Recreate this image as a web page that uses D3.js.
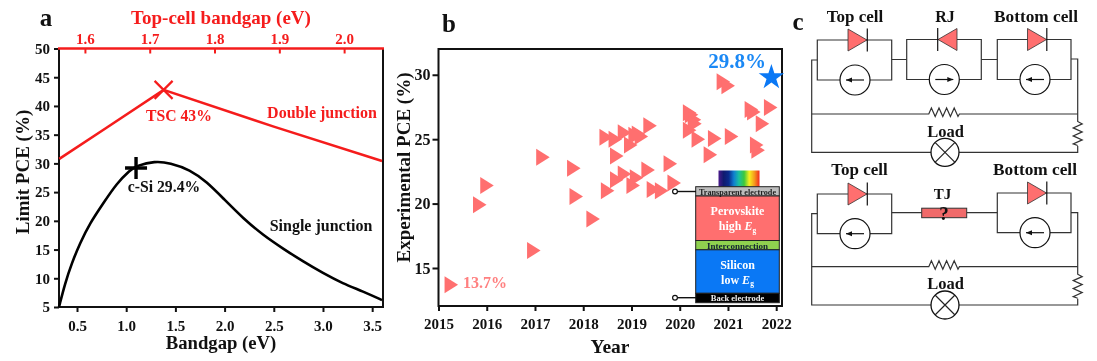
<!DOCTYPE html>
<html>
<head>
<meta charset="utf-8">
<script src="https://cdn.jsdelivr.net/npm/d3@7"></script>
<style>
  html, body { margin: 0; padding: 0; background: #fff; }
  svg { display: block; filter: blur(0.45px); }
  text { font-family: "Liberation Serif", serif; font-weight: bold; }
  .domain { display: none; }
</style>
</head>
<body>
<div id="viz"></div>
<script>
// panel a data
const bandgapTicks = [0.5, 1.0, 1.5, 2.0, 2.5, 3.0, 3.5];
const topBandgapTicks = [1.6, 1.7, 1.8, 1.9, 2.0];
const limitTicks = [5, 10, 15, 20, 25, 30, 35, 40, 45, 50];
const singleBandgap = [0.317, 0.378, 0.446, 0.53, 0.632, 0.767, 0.903, 1.04, 1.107, 1.29, 1.445, 1.648, 1.818, 1.987, 2.19, 2.393, 2.6, 2.8, 3.0, 3.2, 3.41, 3.6];
const singlePce = [5, 9.1, 12.6, 16.1, 19.6, 23.05, 26.5, 28.85, 29.6, 30.4, 30.1, 28.9, 26.8, 23.9, 20.4, 17.5, 15.1, 12.9, 10.9, 9.1, 7.7, 6.2];
const doubleBandgap = [0.32, 0.8, 1.38, 2.5, 3.6];
const doublePce = [30.8, 36.2, 42.8, 36.4, 30.4];

// panel b data
const yearTicks = [2015, 2016, 2017, 2018, 2019, 2020, 2021, 2022];
const pceTicks = [15, 20, 25, 30];
const recordYears = [2015.26, 2015.85, 2016.0, 2016.97, 2017.16, 2017.8, 2017.85, 2018.2, 2018.47, 2018.5, 2018.66, 2018.69, 2018.69, 2018.85, 2018.85, 2018.98, 2019.03, 2019.1, 2019.07, 2019.14, 2019.2, 2019.34, 2019.38, 2019.45, 2019.62, 2019.8, 2019.88, 2020.2, 2020.24, 2020.2, 2020.3, 2020.31, 2020.38, 2020.63, 2020.72, 2020.9, 2021.0, 2021.07, 2021.48, 2021.53, 2021.59, 2021.62, 2021.71, 2021.88];
const recordPce = [13.7, 19.9, 21.4, 16.35, 23.6, 22.75, 20.55, 18.8, 25.15, 21.0, 25.0, 23.7, 21.85, 25.5, 22.3, 24.55, 21.4, 22.0, 25.3, 25.4, 25.2, 22.6, 26.05, 21.1, 21.0, 23.1, 21.6, 27.05, 26.9, 25.7, 26.5, 26.2, 25.0, 23.8, 25.05, 29.45, 29.15, 25.2, 27.3, 27.1, 24.55, 24.15, 26.2, 27.45];
const starYear = 2021.9;
const starPce = 29.8;

const red = "#f51c1c";
const salmon = "#ff6f6f";
const blue = "#0a78f5";
const wire = "#333";

const svg = d3.select("#viz")
                .append("svg")
                  .attr("width", 1097)
                  .attr("height", 361);

function label(parent, x, y, txt, size, fill, anchor) {
  return parent.append("text")
                 .attr("x", x)
                 .attr("y", y)
                 .attr("font-size", size)
                 .attr("fill", fill || "#111")
                 .attr("text-anchor", anchor || "middle")
                 .text(txt);
}

function styleAxis(sel, color, size) {
  sel.selectAll("line").attr("stroke", color).attr("stroke-width", 2);
  sel.selectAll("text")
       .attr("fill", color)
       .attr("font-size", size)
       .attr("font-family", "Liberation Serif")
       .attr("font-weight", "bold");
}

// panel a

const dmsA = { left: 59, right: 383, top: 48.5, bottom: 307 };

const xA = d3.scaleLinear().domain([0.317, 3.61]).range([dmsA.left, dmsA.right]);
const xTopA = d3.scaleLinear().domain([1.56, 2.06]).range([dmsA.left, dmsA.right]);
const yA = d3.scaleLinear().domain([5, 50]).range([dmsA.bottom, dmsA.top]);

const a = svg.append("g");

a.append("g")
   .attr("transform", `translate(0,${dmsA.bottom})`)
   .call(d3.axisBottom(xA).tickValues(bandgapTicks).tickFormat(d3.format(".1f")).tickSize(5).tickPadding(8))
   .call(styleAxis, "#111", 15);

a.append("g")
   .attr("transform", `translate(${dmsA.left},0)`)
   .call(d3.axisLeft(yA).tickValues(limitTicks).tickSize(5).tickPadding(4))
   .call(styleAxis, "#111", 15);

a.append("g")
   .attr("transform", `translate(0,${dmsA.top})`)
   .call(d3.axisTop(xTopA).tickValues(topBandgapTicks).tickFormat(d3.format(".1f")).tickSize(-5))
   .call(styleAxis, red, 15)
   .call(g => g.selectAll("text").attr("y", -4.5));

a.append("path")
   .attr("d", `M${dmsA.left},${dmsA.top}V${dmsA.bottom}H${dmsA.right}V${dmsA.top}`)
   .attr("fill", "none").attr("stroke", "#111").attr("stroke-width", 2);
a.append("line")
   .attr("x1", dmsA.left - 1).attr("x2", dmsA.right + 1)
   .attr("y1", dmsA.top).attr("y2", dmsA.top)
   .attr("stroke", red).attr("stroke-width", 2.4);

const lineA = d3.line().x(d => xA(d[0])).y(d => yA(d[1]));

a.append("path")
   .attr("d", lineA.curve(d3.curveBasis)(d3.zip(singleBandgap, singlePce)))
   .attr("fill", "none").attr("stroke", "#000").attr("stroke-width", 2.6);

a.append("path")
   .attr("d", lineA.curve(d3.curveLinear)(d3.zip(doubleBandgap, doublePce)))
   .attr("fill", "none").attr("stroke", red).attr("stroke-width", 2.6);

// best points on the two curves
a.append("path")
   .attr("transform", `translate(${xA(1.1)},${yA(29.2)})`)
   .attr("d", `M-11,0H11M0,-11V11`)
   .attr("stroke", "#000").attr("stroke-width", 3.4).attr("fill", "none");
a.append("path")
   .attr("transform", `translate(${xA(1.38)},${yA(42.8)})`)
   .attr("d", `M-9,-9L9,9M-9,9L9,-9`)
   .attr("stroke", red).attr("stroke-width", 2.2).attr("fill", "none");

label(a, 46, 26, "a", 25, "#111");
label(a, 221, 24, "Top-cell bandgap (eV)", 19, red);
label(a, 221, 349, "Bandgap (eV)", 18.7);
label(a, 179, 120.5, "TSC 43%", 15.7, red);
label(a, 322, 118, "Double junction", 16, red);
label(a, 164, 192, "c-Si 29.4%", 15.7);
label(a, 321, 230.5, "Single junction", 16);
label(a, 0, 0, "Limit PCE (%)", 19)
   .attr("transform", "translate(29,172) rotate(-90)");

// panel b

const dmsB = { left: 438.5, right: 782, top: 49, bottom: 306 };

const xB = d3.scaleLinear().domain([2015, 2022.12]).range([dmsB.left, dmsB.right]);
const yB = d3.scaleLinear().domain([12.05, 32]).range([dmsB.bottom, dmsB.top]);

const b = svg.append("g");

b.append("g")
   .attr("transform", `translate(0,${dmsB.bottom})`)
   .call(d3.axisBottom(xB).tickValues(yearTicks).tickFormat(d3.format("d")).tickSize(5).tickPadding(7))
   .call(styleAxis, "#111", 15);

b.append("g")
   .attr("transform", `translate(${dmsB.left},0)`)
   .call(d3.axisLeft(yB).tickValues(pceTicks).tickSize(6).tickPadding(2))
   .call(styleAxis, "#111", 16);

b.append("rect")
   .attr("x", dmsB.left).attr("y", dmsB.top)
   .attr("width", dmsB.right - dmsB.left).attr("height", dmsB.bottom - dmsB.top)
   .attr("fill", "none").attr("stroke", "#111").attr("stroke-width", 2);

b.selectAll(".record")
   .data(d3.zip(recordYears, recordPce))
   .join("path")
     .attr("class", "record")
     .attr("transform", d => `translate(${xB(d[0])},${yB(d[1])})`)
     .attr("d", "M-6.5,-8.5L7,0L-6.5,8.5Z")
     .attr("fill", salmon);

b.append("path")
   .attr("transform", `translate(${xB(starYear)},${yB(starPce)})`)
   .attr("d", d3.symbol().type(d3.symbolStar).size(200))
   .attr("fill", blue);

label(b, 737, 68, "29.8%", 21, "#1a88f5");
label(b, 463, 288, "13.7%", 16, "#ff8080", "start");
label(b, 449, 32, "b", 25);
label(b, 610, 353, "Year", 19.5);
label(b, 0, 0, "Experimental PCE (%)", 19)
   .attr("transform", "translate(410,167.5) rotate(-90)");

// device stack inset

const spectrum = ["#4b1a8c", "#101a6e", "#0a2a8c", "#0f7fd0", "#19c0a0", "#3cc83c", "#f5f01e", "#f59a1e", "#f0281e"];
const defs = svg.append("defs");
const grad = defs.append("linearGradient").attr("id", "spectrum");
grad.selectAll("stop")
      .data(spectrum)
      .join("stop")
        .attr("offset", (d, i) => i / (spectrum.length - 1))
        .attr("stop-color", d => d);

const inset = svg.append("g");

inset.append("rect")
       .attr("x", 718.5).attr("y", 170.5).attr("width", 41).attr("height", 16.5)
       .attr("fill", "url(#spectrum)");

const layers = [
  { y: 186.7, h: 9.3, fill: "#bdbdbd" },
  { y: 196, h: 44.5, fill: salmon },
  { y: 240.5, h: 9.3, fill: "#8fd14f" },
  { y: 249.8, h: 43.5, fill: blue },
  { y: 293.3, h: 9.4, fill: "#000" }
];

inset.selectAll("rect.layer")
       .data(layers)
       .join("rect")
         .attr("class", "layer")
         .attr("x", 695.7).attr("width", 83.6)
         .attr("y", d => d.y).attr("height", d => d.h)
         .attr("fill", d => d.fill)
         .attr("stroke", "#222").attr("stroke-width", 1);

[191.5, 297.7].forEach(y => {
  inset.append("line").attr("x1", 677).attr("x2", 696).attr("y1", y).attr("y2", y)
         .attr("stroke", "#111").attr("stroke-width", 1.4);
  inset.append("circle").attr("cx", 675).attr("cy", y).attr("r", 2.4)
         .attr("fill", "#fff").attr("stroke", "#111").attr("stroke-width", 1.2);
});

label(inset, 737.5, 194.7, "Transparent electrode", 8.2, "#222");
label(inset, 737.5, 215, "Perovskite", 12, "#fff");
label(inset, 737.5, 248.5, "Interconnection", 9, "#123");
label(inset, 737.5, 268.5, "Silicon", 12, "#fff");
label(inset, 737.5, 300.5, "Back electrode", 8.5, "#eee");

function subLabel(cx, y, first) {
  const t = label(inset, cx, y, first, 12, "#fff");
  t.append("tspan").attr("font-style", "italic").text("E");
  t.append("tspan").attr("font-size", 7.5).attr("dy", 2.5).text("g");
}
subLabel(737.5, 230, "high ");
subLabel(737.5, 283.5, "low ");

// panel c

const c = svg.append("g")
               .attr("fill", "none")
               .attr("stroke", wire)
               .attr("stroke-width", 1.2);

function wirePath(d) {
  c.append("path").attr("d", d);
}

function diode(x, y, reversed) {
  // triangle drawn pointing right, flipped for the recombination junction
  const g = c.append("g").attr("transform", `translate(${x},${y}) scale(${reversed ? -1 : 1},1)`);
  g.append("path").attr("d", "M-9.5,-11L9.5,0L-9.5,11Z").attr("fill", salmon).attr("stroke", "#333").attr("stroke-width", 0.8);
  g.append("line").attr("x1", 9.8).attr("x2", 9.8).attr("y1", -11.5).attr("y2", 11.5).attr("stroke", "#111").attr("stroke-width", 1.2);
}

function source(x, y, dir) {
  const g = c.append("g").attr("transform", `translate(${x},${y}) scale(${dir},1)`);
  g.append("circle").attr("r", 15).attr("fill", "#fff").attr("stroke", "#111");
  g.append("line").attr("x1", -9).attr("x2", 9).attr("stroke", "#111").attr("stroke-width", 1.2);
  g.append("path").attr("d", "M9,0L3,-2.5L3,2.5Z").attr("fill", "#111").attr("stroke", "none");
}

function cell(x0, x1, top, bottom, diodeX, sourceX, reversed) {
  wirePath(`M${diodeX},${top}H${x0}V${bottom}H${x1}V${top}H${diodeX}`);
  diode(diodeX, top, reversed);
  source(sourceX, bottom, reversed ? 1 : -1);
}

function lamp(x, y) {
  const g = c.append("g").attr("transform", `translate(${x},${y})`);
  g.append("circle").attr("r", 14).attr("fill", "#fff").attr("stroke", "#111").attr("stroke-width", 1.3);
  g.append("path").attr("d", "M-10,-10L10,10M-10,10L10,-10").attr("stroke", "#222");
}

const zigH = "h1.5l2.6,-6l3.8,8.5l3.8,-8.5l3.8,8.5l3.8,-8.5l3.8,8.5l3.8,-8.5l3.8,8.5l1.4,-2.5";
const zigV = "v1.5l4.5,2.4l-9,4l9,4l-9,4l9,4l-9,4l4.5,1.6";

function outerLoop(yStartL, yStartR, yMid, yBottom) {
  wirePath(`M817.3,${yStartL}H811.7V${yBottom}H1077.7V${yMid + 32}`);
  wirePath(`M1071,${yStartR}H1077.7V${yMid + 6}${zigV}`);
  wirePath(`M811.7,${yMid}H927.3${zigH}H1077.7`);
  lamp(945, yBottom);
}

// upper circuit: three terminals with a recombination junction
outerLoop(60, 59, 114, 152.3);
cell(817.3, 891.7, 40, 80, 857.5, 855, false);
cell(906.7, 981.3, 39.5, 79.5, 947.5, 944.3, true);
cell(997.3, 1071, 39.5, 79.5, 1037, 1035, false);
wirePath("M891.7,59.5H906.7M981.3,59.5H997.3");

// lower circuit: tunnel junction between the cells
outerLoop(213.7, 212.7, 266.7, 305);
cell(817.3, 891.7, 194, 233.7, 857.5, 855, false);
cell(997.3, 1071, 193, 232.7, 1037, 1035, false);
wirePath("M891.7,212.7H921.7M966.7,212.7H997.3");
c.append("rect")
   .attr("x", 921.7).attr("y", 208.2).attr("width", 45).attr("height", 9.5)
   .attr("fill", "#f06a6a").attr("stroke", "#333").attr("stroke-width", 1);

const cText = svg.append("g");
label(cText, 798, 30, "c", 25);
label(cText, 855, 22, "Top cell", 17);
label(cText, 945, 22, "RJ", 16);
label(cText, 1036, 22, "Bottom cell", 17.3);
label(cText, 945.5, 137, "Load", 16.5);
label(cText, 859.5, 175, "Top cell", 17);
label(cText, 1035, 175, "Bottom cell", 17.3);
label(cText, 942.5, 198.5, "TJ", 15);
label(cText, 944, 220, "?", 19);
label(cText, 945.5, 288.5, "Load", 16.5);
</script>
</body>
</html>
